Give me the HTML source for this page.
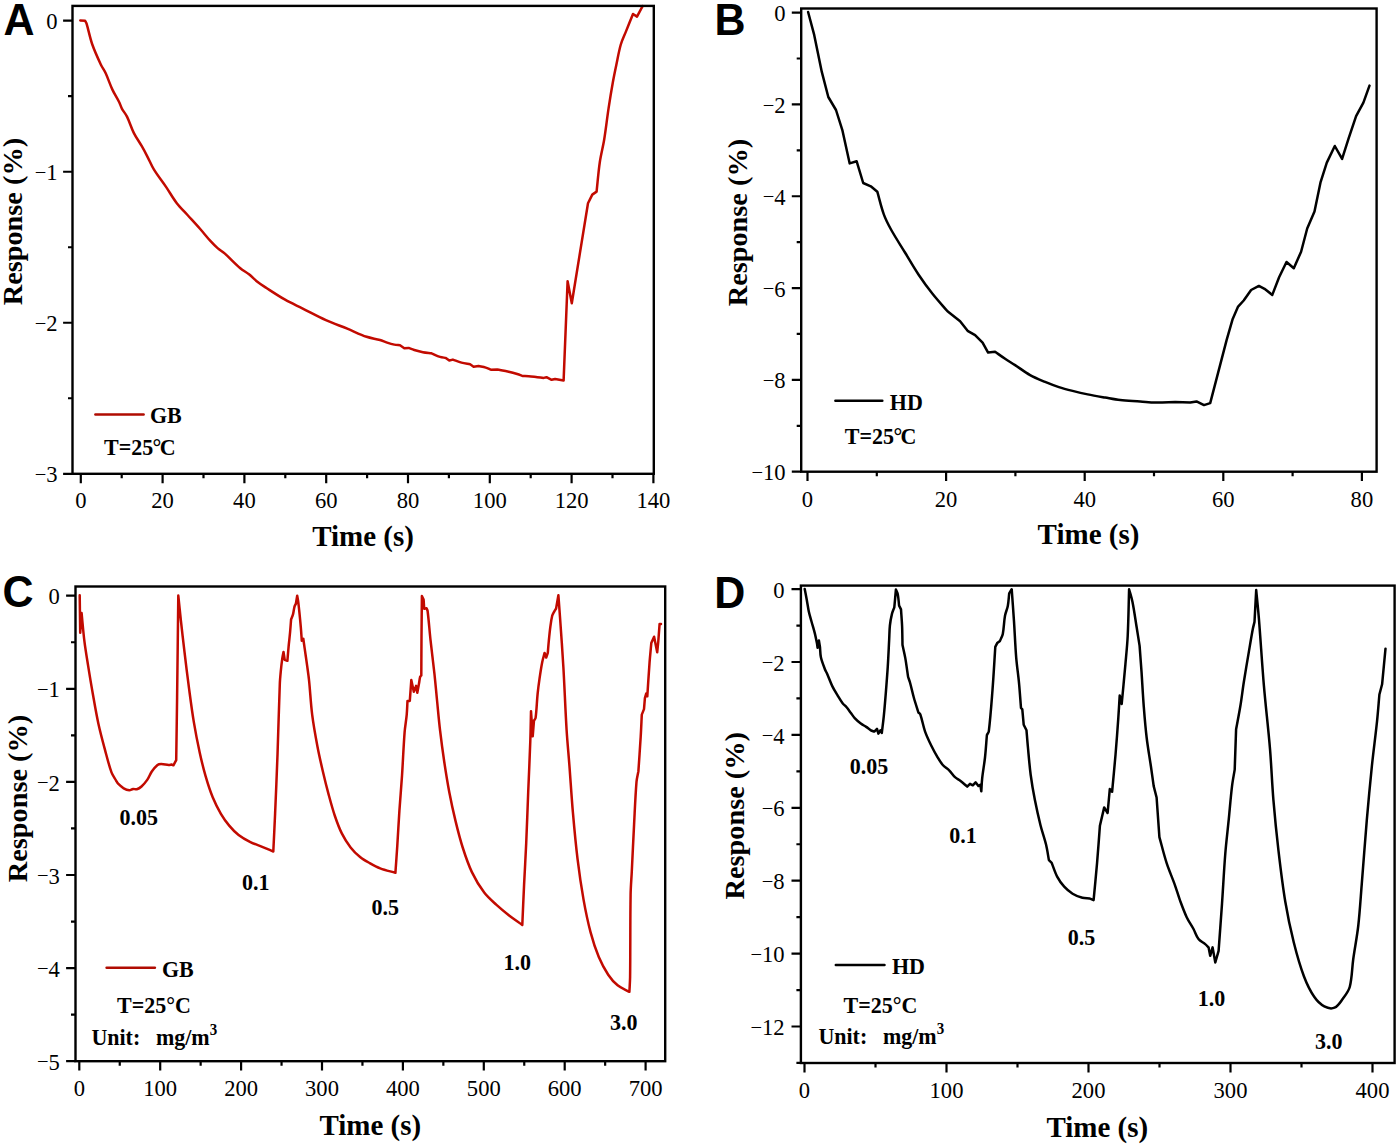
<!DOCTYPE html><html><head><meta charset="utf-8"><style>html,body{margin:0;padding:0;background:#fff;overflow:hidden}svg{display:block}.tl{font-family:"Liberation Serif",serif;font-size:22.6px;fill:#000}.ti{font-family:"Liberation Serif",serif;font-weight:bold;font-size:29px;fill:#000}.yt{font-family:"Liberation Serif",serif;font-weight:bold;font-size:28.3px;fill:#000}.lg{font-family:"Liberation Serif",serif;font-weight:bold;font-size:22px;fill:#000}.pl{font-family:"Liberation Sans",sans-serif;font-weight:bold;font-size:43px;fill:#000}</style></head><body>
<svg width="1399" height="1147" viewBox="0 0 1399 1147">
<rect width="1399" height="1147" fill="#fff"/>
<path fill="none" stroke="#c20a00" stroke-width="2.5" stroke-linejoin="round" stroke-linecap="round" d="M80.3 20.4L85.1 20.7C85.56 21.59 86.21 22.44 86.5 23.4C88.59 30.31 89.92 37.68 92.3 44.5C94.69 51.34 97.84 58.13 100.9 64.7C102.27 67.65 104.34 70.35 105.7 73.3C108.14 78.58 109.94 84.33 112.4 89.6C114.37 93.81 117.02 97.84 119.1 102C120.19 104.18 120.84 106.65 122 108.8C123.46 111.49 125.66 113.85 127 116.6C129.6 121.9 131.26 127.82 133.9 133.1C136.16 137.62 139.28 141.83 141.8 146.2C143.6 149.32 145.34 152.6 147 155.8C149.37 160.36 151.31 165.32 154 169.7C157.67 175.68 162.25 181.3 166.2 187.1C169.78 192.36 172.94 198.14 176.8 203.2C179.99 207.38 183.97 211.11 187.5 215C191.69 219.62 196.07 224.32 200.2 229C203.7 232.97 207.04 237.29 210.6 241.2C212.78 243.6 215.15 245.97 217.6 248.1C219.78 250 222.43 251.48 224.6 253.4C229.93 258.12 234.89 263.57 240.3 268.2C242.96 270.48 246.26 272.11 249 274.3C252.01 276.71 254.68 279.7 257.7 282.1C260.14 284.04 262.88 285.72 265.5 287.4C271.92 291.53 278.46 295.93 285.1 299.7C290.62 302.83 296.62 305.46 302.3 308.3C310.09 312.19 317.97 316.5 325.9 320.1C332.83 323.24 340.26 325.81 347.3 328.7C353.69 331.32 360.07 334.54 366.6 336.8C370.9 338.28 375.63 338.76 380 340C382.4 340.68 384.72 341.84 387.1 342.6C389.45 343.36 391.89 344.09 394.3 344.6C396.15 344.99 398.12 345.07 400 345.3L404.3 348.2L408.6 347.9C410.48 348.59 412.38 349.42 414.3 350C417.11 350.84 420.02 351.65 422.9 352.2C425.71 352.74 428.66 352.94 431.5 353.3C434.31 354.49 437.1 355.97 440 356.9C441.85 357.49 443.89 357.57 445.8 357.9L449.3 360.5L452.9 359.6C455.74 360.59 458.6 361.81 461.5 362.6C464.29 363.36 467.26 363.74 470.1 364.3L473.6 366.7L478.6 366C480.98 366.53 483.47 366.89 485.8 367.6C487.51 368.12 489.15 369.01 490.8 369.7L497.2 369.6C501 370.33 504.93 370.97 508.7 371.8C511.53 372.42 514.42 373.18 517.2 374C519.14 374.57 521.09 375.34 523 376C524.88 376.07 526.82 376.04 528.7 376.2C531.55 376.44 534.46 376.88 537.3 377.2C539.41 377.44 541.59 377.67 543.7 377.9L546.5 377.2L551.6 379.8L555.1 379L563.6 380.6L567.6 281.2L571.8 303.2L588 203.2L592.3 194.6L596.6 191.6C597.66 181.9 598.39 171.86 599.8 162.2C600.9 154.65 602.97 147.03 604.2 139.5C605.88 129.17 607.03 118.45 608.6 108.1C609.91 99.47 611.36 90.59 612.9 82C613.94 76.2 615.19 70.26 616.4 64.5C617.79 57.89 618.92 50.99 620.8 44.5C622.1 40.03 624.27 35.72 626 31.4C628.3 25.65 630.69 19.74 633 14L637 16.6L642.6 6.1"/>
<rect x="72.5" y="5.9" width="581.3" height="467.9" fill="none" stroke="#000" stroke-width="2.4"/>
<path d="M80.8 473.8V483.2M162.6 473.8V483.2M244.4 473.8V483.2M326.2 473.8V483.2M408 473.8V483.2M489.8 473.8V483.2M571.6 473.8V483.2M653.4 473.8V483.2M121.7 473.8V478.3M203.5 473.8V478.3M285.3 473.8V478.3M367.1 473.8V478.3M448.9 473.8V478.3M530.7 473.8V478.3M612.5 473.8V478.3M72.5 20.7H63.1M72.5 171.73H63.1M72.5 322.76H63.1M72.5 473.79H63.1M72.5 96.22H68M72.5 247.25H68M72.5 398.27H68" stroke="#000" stroke-width="2.2" fill="none"/>
<text class="tl" x="80.8" y="507.5" text-anchor="middle">0</text>
<text class="tl" x="162.6" y="507.5" text-anchor="middle">20</text>
<text class="tl" x="244.4" y="507.5" text-anchor="middle">40</text>
<text class="tl" x="326.2" y="507.5" text-anchor="middle">60</text>
<text class="tl" x="408" y="507.5" text-anchor="middle">80</text>
<text class="tl" x="489.8" y="507.5" text-anchor="middle">100</text>
<text class="tl" x="571.6" y="507.5" text-anchor="middle">120</text>
<text class="tl" x="653.4" y="507.5" text-anchor="middle">140</text>
<text class="tl" x="57.5" y="29.3" text-anchor="end">0</text>
<text class="tl" x="57.5" y="180.33" text-anchor="end"><tspan font-size="20.5" dy="-1.4">−</tspan><tspan dy="1.4" dx="-0.1">1</tspan></text>
<text class="tl" x="57.5" y="331.36" text-anchor="end"><tspan font-size="20.5" dy="-1.4">−</tspan><tspan dy="1.4" dx="-0.1">2</tspan></text>
<text class="tl" x="57.5" y="482.39" text-anchor="end"><tspan font-size="20.5" dy="-1.4">−</tspan><tspan dy="1.4" dx="-0.1">3</tspan></text>
<text class="ti" transform="translate(363.1 546.4) scale(1 1.025)" text-anchor="middle">Time (s)</text>
<text class="yt" transform="translate(22.4 221.6) rotate(-90)" x="0" y="0" text-anchor="middle">Response (%)</text>
<text class="pl" transform="translate(3.4 35) scale(1 1.035)">A</text>
<line x1="95.4" y1="414.4" x2="143.6" y2="414.4" stroke="#b00c02" stroke-width="2.5" stroke-linecap="round"/>
<text class="lg" transform="translate(150 423) scale(1 1.06)">GB</text>
<text class="lg" transform="translate(104 455) scale(1 1.06)">T=25<tspan dx="-0.6">°</tspan><tspan dx="-1.6">C</tspan></text>
<path fill="none" stroke="#000" stroke-width="2.5" stroke-linejoin="round" stroke-linecap="round" d="M808.1 12L814.2 34.9L821.8 71.9L828.3 97L836 110L842.5 130.7L849.7 163.4L856.6 161.2L863.2 183L870.8 186.3L877.3 191.7C879.48 199.26 881.2 207.21 883.9 214.6C885.84 219.9 888.56 225.07 891.3 230C895.53 237.6 900.47 245.08 905 252.5C909.54 259.93 913.97 267.75 918.8 275C923.05 281.39 927.74 287.78 932.5 293.8C937.22 299.77 942.55 305.53 947.5 311.3L960.1 321.3L967.6 330.8L975.1 335.1L982.6 342.6L988.1 352.6L995.1 351.8C998.4 354.11 1001.75 356.57 1005.1 358.8C1008.35 360.96 1011.83 362.97 1015.1 365.1C1020.08 368.35 1024.91 372.19 1030.1 375.1C1034.84 377.76 1040.08 379.81 1045.1 381.9C1049.59 383.77 1054.27 385.59 1058.9 387.1C1063.36 388.56 1068.05 389.75 1072.6 390.9C1077.56 392.16 1082.69 393.37 1087.7 394.4C1093.45 395.58 1099.42 396.59 1105.2 397.6C1110.14 398.47 1115.21 399.56 1120.2 400.1C1126.78 400.81 1133.6 400.93 1140.2 401.4C1145.15 401.75 1150.24 402.5 1155.2 402.6C1161.8 402.73 1168.6 402.27 1175.2 402.1L1190.2 402.6L1196.5 401.4L1204 405.1L1210.2 403.1L1226.6 340.1L1232.7 318.9L1238.1 306.6L1243.7 300.5L1251.1 290L1258.9 285.9L1264.5 288.8L1272.3 294.9L1279.1 277.3L1286.5 262L1293.8 268.3L1301.1 251.7L1307.2 228.5L1314.5 211.4L1320.6 182.1L1326.8 162.6L1334.8 146L1342.1 158.9L1348.7 138.1L1356.1 116.2L1363.4 102.7L1369.5 85.6"/>
<rect x="801.2" y="8.5" width="575.4" height="463.2" fill="none" stroke="#000" stroke-width="2.4"/>
<path d="M807.5 471.7V481.1M946.1 471.7V481.1M1084.7 471.7V481.1M1223.3 471.7V481.1M1361.9 471.7V481.1M876.8 471.7V476.2M1015.4 471.7V476.2M1154 471.7V476.2M1292.6 471.7V476.2M801.2 12.6H791.8M801.2 104.42H791.8M801.2 196.24H791.8M801.2 288.06H791.8M801.2 379.88H791.8M801.2 471.7H791.8M801.2 58.51H796.7M801.2 150.33H796.7M801.2 242.15H796.7M801.2 333.97H796.7M801.2 425.79H796.7" stroke="#000" stroke-width="2.2" fill="none"/>
<text class="tl" x="807.5" y="507" text-anchor="middle">0</text>
<text class="tl" x="946.1" y="507" text-anchor="middle">20</text>
<text class="tl" x="1084.7" y="507" text-anchor="middle">40</text>
<text class="tl" x="1223.3" y="507" text-anchor="middle">60</text>
<text class="tl" x="1361.9" y="507" text-anchor="middle">80</text>
<text class="tl" x="785.5" y="21.2" text-anchor="end">0</text>
<text class="tl" x="785.5" y="113.02" text-anchor="end"><tspan font-size="20.5" dy="-1.4">−</tspan><tspan dy="1.4" dx="-0.1">2</tspan></text>
<text class="tl" x="785.5" y="204.84" text-anchor="end"><tspan font-size="20.5" dy="-1.4">−</tspan><tspan dy="1.4" dx="-0.1">4</tspan></text>
<text class="tl" x="785.5" y="296.66" text-anchor="end"><tspan font-size="20.5" dy="-1.4">−</tspan><tspan dy="1.4" dx="-0.1">6</tspan></text>
<text class="tl" x="785.5" y="388.48" text-anchor="end"><tspan font-size="20.5" dy="-1.4">−</tspan><tspan dy="1.4" dx="-0.1">8</tspan></text>
<text class="tl" x="785.5" y="480.3" text-anchor="end"><tspan font-size="20.5" dy="-1.4">−</tspan><tspan dy="1.4" dx="-0.1">10</tspan></text>
<text class="ti" transform="translate(1088.5 544) scale(1 1.025)" text-anchor="middle">Time (s)</text>
<text class="yt" transform="translate(746.9 222.6) rotate(-90)" x="0" y="0" text-anchor="middle">Response (%)</text>
<text class="pl" transform="translate(714.4 35.3) scale(1 1.035)">B</text>
<line x1="835.4" y1="400.8" x2="882.3" y2="400.8" stroke="#000" stroke-width="2.5" stroke-linecap="round"/>
<text class="lg" transform="translate(889.8 409.5) scale(1 1.06)">HD</text>
<text class="lg" transform="translate(844.8 443.8) scale(1 1.06)">T=25<tspan dx="-0.6">°</tspan><tspan dx="-1.6">C</tspan></text>
<path fill="none" stroke="#c20a00" stroke-width="2.5" stroke-linejoin="round" stroke-linecap="round" d="M79.7 595.3L80.2 632.8L81.6 613.1C82.52 622.37 83.25 631.95 84.4 641.2C85.4 649.28 86.81 657.56 88.1 665.6C89.59 674.88 91.16 684.44 92.8 693.7C94.56 703.62 96.26 713.86 98.4 723.7C100.29 732.41 102.68 741.29 105 749.9C107.01 757.36 108.87 765.13 111.5 772.4C112.58 775.39 114.6 778.06 116.2 780.8C116.78 781.79 117.29 782.89 118.1 783.7C119.79 785.39 121.63 787.1 123.7 788.3C125.39 789.28 127.35 790.08 129.3 790.2C130.62 790.28 131.78 789.06 133.1 788.9C134.32 788.75 135.62 789.64 136.8 789.3C138.54 788.8 140.16 787.71 141.5 786.5C143.63 784.57 145.57 782.27 147.2 779.9C148.99 777.29 150.01 774.11 151.8 771.5C153.43 769.13 155.25 766.69 157.5 764.9C158.48 764.12 159.94 764 161.2 764C163.69 764 166.21 764.78 168.7 764.9C169.63 764.95 170.58 764.63 171.5 764.5L173.4 765.3L176.2 760.2C176.5 739.48 176.84 718.12 177.1 697.4C177.53 663.81 177.9 629.19 178.3 595.6C179.16 603.85 180 612.35 180.9 620.6C182.01 630.7 183.19 641.11 184.4 651.2C185.89 663.65 187.45 676.47 189.1 688.9C190.55 699.8 191.99 711.05 193.8 721.9C195.49 732.04 197.51 742.45 199.7 752.5C201.41 760.34 203.36 768.39 205.6 776.1C207.66 783.19 209.93 790.46 212.7 797.3C214.99 802.93 217.84 808.55 220.9 813.8C223.3 817.91 226.15 821.95 229.2 825.6C232.01 828.97 235.14 832.31 238.6 835C242.19 837.79 246.34 840.07 250.4 842.1C254.15 843.97 258.32 845.21 262.2 846.8C265.88 848.31 269.64 849.95 273.3 851.5C273.89 839.06 274.56 826.24 275.1 813.8C275.94 794.37 276.79 774.34 277.5 754.9C278.35 731.57 278.88 707.53 279.8 684.2C279.97 679.87 280.38 675.42 280.8 671.1C281.21 666.9 281.71 662.58 282.3 658.4C282.6 656.27 283.1 654.11 283.5 652L284.7 659.8L287.4 660.8C287.8 656.11 288.16 651.28 288.6 646.6C289.05 641.78 289.66 636.82 290.1 632C290.48 627.81 290.77 623.49 291.1 619.3C291.73 617.68 292.55 616.08 293 614.4C293.68 611.87 293.82 609.13 294.5 606.6C294.78 605.54 295.44 604.59 295.9 603.6L297.2 595.8C297.53 597.75 297.94 599.74 298.2 601.7C298.67 605.22 299.04 608.87 299.4 612.4C299.9 617.25 300.39 622.24 300.8 627.1C301.18 631.62 301.47 636.28 301.8 640.8L303.3 638.8C303.76 642.03 304.24 645.37 304.7 648.6C305.53 654.41 306.41 660.39 307.2 666.2C307.86 671.01 308.6 675.97 309.1 680.8C310.25 692.04 310.78 703.69 312.2 714.9C313.52 725.29 315.46 735.91 317.4 746.2C318.93 754.33 320.82 762.64 322.7 770.7C324.58 778.78 326.64 787.09 328.8 795.1C330.67 802.04 332.59 809.2 334.9 816C336.89 821.85 339.04 827.88 341.8 833.4C344.24 838.28 347.26 843.09 350.6 847.4C353.33 850.92 356.66 854.17 360.1 857C363 859.38 366.43 861.26 369.7 863.1C373.07 864.99 376.58 866.93 380.2 868.3C385.09 870.15 390.38 871.31 395.4 872.8C396.03 863.82 396.72 854.58 397.3 845.6C398.04 834.12 398.63 822.28 399.4 810.8C400.18 799.28 401.24 787.42 402 775.9C402.95 761.52 403.49 746.67 404.6 732.3C405.04 726.53 406.17 720.66 406.7 714.9C407.13 710.29 407.24 705.52 407.5 700.9L409.8 700.9L411.3 680.1L413.8 691.7L416.1 685.9L417.3 692.8L419 683.6C419.4 681.32 419.57 678.92 420.2 676.7C420.35 676.18 420.94 675.9 421.3 675.5C421.37 662.6 421.4 649.3 421.5 636.4C421.6 623.1 421.77 609.4 421.9 596.1L423.6 599.5L424.2 608.7L426.5 608.2C426.86 609.12 427.48 610.02 427.6 611C428.8 620.48 429.47 630.3 430.5 639.8C431.74 651.23 433.27 662.97 434.5 674.4C435.41 682.84 436.16 691.55 437 700C438.01 710.13 438.92 720.59 440.1 730.7C441.29 740.88 442.68 751.36 444.2 761.5C445.72 771.66 447.38 782.11 449.3 792.2C451.11 801.72 453.22 811.48 455.5 820.9C457.64 829.74 459.93 838.84 462.7 847.5C465.34 855.75 468.17 864.28 471.9 872.1C475.29 879.22 479.47 886.29 484.2 892.6C487.64 897.19 492.27 901.02 496.5 904.9C500.4 908.48 504.62 911.95 508.8 915.2C513.14 918.58 517.85 921.77 522.3 925C522.89 911.6 523.46 897.8 524.1 884.4C524.75 870.87 525.6 856.93 526.2 843.4C526.95 826.51 527.52 809.1 528.2 792.2C528.88 775.3 529.72 757.9 530.3 741C530.64 731.17 530.77 721.03 531 711.2L532.7 736.3L534 720.5C534.53 719.61 535.46 718.83 535.6 717.8C536.66 709.99 536.81 701.84 537.6 694C538.13 688.74 538.84 683.33 539.6 678.1C540.36 672.84 541.17 667.42 542.2 662.2C542.82 659.09 543.81 655.97 544.6 652.9L546.2 657.5L547.8 652.9C548.13 648.97 548.42 644.92 548.8 641C549.27 636.18 549.75 631.2 550.4 626.4C550.87 622.88 551.33 619.24 552.2 615.8C552.56 614.38 553.41 613.09 554.1 611.8C554.7 610.68 555.44 609.59 556.1 608.5L558.4 595.3C558.96 602.96 559.57 610.84 560.1 618.5C561.22 634.67 562.46 651.32 563.4 667.5C564.6 688.12 565.34 709.39 566.6 730C567.32 741.66 568.51 753.65 569.4 765.3C570.59 780.84 571.55 796.87 572.9 812.4C574.25 827.93 575.71 843.93 577.6 859.4C579.21 872.64 581.16 886.26 583.5 899.4C585.45 910.37 587.74 921.63 590.6 932.4C592.8 940.7 595.5 949.17 598.8 957.1C601.33 963.18 604.55 969.22 608.2 974.7C610.79 978.59 613.96 982.36 617.6 985.3C621.06 988.09 625.51 989.65 629.4 991.8C629.63 986.95 630.04 981.96 630.1 977.1C630.44 949.91 630.16 921.89 630.6 894.7C630.72 886.94 631.42 878.96 631.8 871.2C632.57 855.66 633.28 839.64 634.1 824.1C634.83 810.14 635.37 795.74 636.5 781.8C636.79 778.26 637.77 774.7 638.4 771.2C639.16 759.78 640.01 748.02 640.7 736.6C641.14 729.34 641.44 721.86 641.8 714.6L644 709.1L644.9 698.1L646.2 693.5L647.3 696.3C648.03 685.41 648.68 674.18 649.5 663.3C650 656.63 650.71 649.77 651.3 643.1L654.1 636.7L655 641.3L657.2 652.3L658.3 641.3L659.6 623.9L661 623.9"/>
<rect x="75.5" y="586.5" width="589.7" height="474.7" fill="none" stroke="#000" stroke-width="2.4"/>
<path d="M79.3 1061.2V1070.6M160.2 1061.2V1070.6M241.1 1061.2V1070.6M322 1061.2V1070.6M402.9 1061.2V1070.6M483.8 1061.2V1070.6M564.7 1061.2V1070.6M645.6 1061.2V1070.6M119.75 1061.2V1065.7M200.65 1061.2V1065.7M281.55 1061.2V1065.7M362.45 1061.2V1065.7M443.35 1061.2V1065.7M524.25 1061.2V1065.7M605.15 1061.2V1065.7M75.5 595.7H66.1M75.5 688.8H66.1M75.5 781.9H66.1M75.5 875H66.1M75.5 968.1H66.1M75.5 1061.2H66.1M75.5 642.25H71M75.5 735.35H71M75.5 828.45H71M75.5 921.55H71M75.5 1014.65H71" stroke="#000" stroke-width="2.2" fill="none"/>
<text class="tl" x="79.3" y="1095.5" text-anchor="middle">0</text>
<text class="tl" x="160.2" y="1095.5" text-anchor="middle">100</text>
<text class="tl" x="241.1" y="1095.5" text-anchor="middle">200</text>
<text class="tl" x="322" y="1095.5" text-anchor="middle">300</text>
<text class="tl" x="402.9" y="1095.5" text-anchor="middle">400</text>
<text class="tl" x="483.8" y="1095.5" text-anchor="middle">500</text>
<text class="tl" x="564.7" y="1095.5" text-anchor="middle">600</text>
<text class="tl" x="645.6" y="1095.5" text-anchor="middle">700</text>
<text class="tl" x="59.7" y="604.3" text-anchor="end">0</text>
<text class="tl" x="59.7" y="697.4" text-anchor="end"><tspan font-size="20.5" dy="-1.4">−</tspan><tspan dy="1.4" dx="-0.1">1</tspan></text>
<text class="tl" x="59.7" y="790.5" text-anchor="end"><tspan font-size="20.5" dy="-1.4">−</tspan><tspan dy="1.4" dx="-0.1">2</tspan></text>
<text class="tl" x="59.7" y="883.6" text-anchor="end"><tspan font-size="20.5" dy="-1.4">−</tspan><tspan dy="1.4" dx="-0.1">3</tspan></text>
<text class="tl" x="59.7" y="976.7" text-anchor="end"><tspan font-size="20.5" dy="-1.4">−</tspan><tspan dy="1.4" dx="-0.1">4</tspan></text>
<text class="tl" x="59.7" y="1069.8" text-anchor="end"><tspan font-size="20.5" dy="-1.4">−</tspan><tspan dy="1.4" dx="-0.1">5</tspan></text>
<text class="ti" transform="translate(370.3 1135) scale(1 1.025)" text-anchor="middle">Time (s)</text>
<text class="yt" transform="translate(27 798.5) rotate(-90)" x="0" y="0" text-anchor="middle">Response (%)</text>
<text class="pl" transform="translate(2.4 607) scale(1 1.035)">C</text>
<line x1="106.6" y1="967.7" x2="154.9" y2="967.7" stroke="#b00c02" stroke-width="2.5" stroke-linecap="round"/>
<text class="lg" transform="translate(162 976.7) scale(1 1.06)">GB</text>
<text class="lg" transform="translate(117 1013.3) scale(1 1.06)">T=25°C</text>
<text class="lg" transform="translate(91.4 1044.5) scale(1 1.06)">Unit:</text>
<text class="lg" transform="translate(155.9 1044.5) scale(1 1.06)">mg/m<tspan dy="-9" font-size="15">3</tspan></text>
<path fill="none" stroke="#000" stroke-width="2.5" stroke-linejoin="round" stroke-linecap="round" d="M804.7 589.1C805.39 592.66 806.14 596.33 806.8 599.9C807.5 603.69 807.98 607.64 808.8 611.4C809.53 614.77 810.59 618.17 811.5 621.5C812.6 625.5 813.89 629.58 814.9 633.6C815.68 636.71 816.3 639.95 816.9 643.1C817.19 644.64 817.37 646.25 817.6 647.8L818.9 640.4L820 647.2C820.3 650.53 820.17 654.03 820.9 657.3C821.83 661.44 823.5 665.53 825 669.5C825.52 670.88 826.41 672.15 827 673.5C828.85 677.73 830.39 682.25 832.4 686.4C833.96 689.62 835.94 692.74 837.8 695.8C839.31 698.29 840.83 700.89 842.6 703.2C843.75 704.7 845.37 705.86 846.6 707.3C848.05 709 849.36 710.91 850.7 712.7C852.03 714.47 853.19 716.48 854.7 718.1C856.54 720.06 858.66 721.87 860.8 723.5C862.47 724.78 864.45 725.72 866.2 726.9C867.79 727.97 869.24 729.34 870.9 730.3C871.94 730.9 873.18 731.17 874.3 731.6L877 728.9L878.4 733.6L880.4 730.3L881.8 733C882.46 727.42 883.24 721.69 883.8 716.1C884.56 708.52 885.19 700.69 885.8 693.1C886.51 684.19 887.24 675.02 887.8 666.1C888.36 657.2 888.74 648.01 889.2 639.1C889.43 634.61 889.42 629.97 889.9 625.5C890.31 621.7 891 617.81 891.9 614.1C892.46 611.79 893.51 609.54 894.3 607.3C894.53 604.86 894.78 602.34 895 599.9C895.31 596.47 895.6 592.93 895.9 589.5C896.53 591.12 897.46 592.7 897.8 594.4C898.53 598.05 898.67 601.9 899.1 605.6L901 609.4C901.36 614.98 901.86 620.72 902.1 626.3C902.36 632.47 902.37 638.83 902.5 645C903.42 649.32 904.54 653.75 905.3 658.1C906.38 664.28 907.18 670.7 908.1 676.9C908.73 678.75 909.48 680.62 910 682.5C911.36 687.42 912.42 692.58 913.8 697.5C915.2 702.49 916.88 707.55 918.4 712.5C919.03 713.13 920.01 713.56 920.3 714.4C922.22 719.86 923.07 725.84 925 731.3C926.81 736.4 929.25 741.43 931.6 746.3C933.28 749.78 935.21 753.28 937.2 756.6C938.91 759.46 940.61 762.49 942.8 765C944.68 767.15 947.38 768.58 949.4 770.6C951.42 772.62 952.91 775.26 955 777.2C956.64 778.72 958.83 779.64 960.6 781C962.86 782.74 965.02 784.75 967.2 786.6L970 783.8L972.8 785.3L975.6 782.3L978.4 786L980.3 784.7L981.3 791.3C981.6 786.94 981.72 782.44 982.2 778.1C982.95 771.28 984.26 764.32 985 757.5C985.81 750.09 986.27 742.42 986.9 735C987.53 733.78 988.63 732.66 988.8 731.3C990.49 717.72 991.45 703.64 992.5 690C993.59 675.79 994.38 661.12 995.3 646.9L997.2 643.1L1000 640.9C1000.92 638.59 1002.32 636.34 1002.8 633.9C1003.98 627.97 1003.93 621.65 1005 615.7C1005.59 612.42 1007.18 609.27 1007.8 606C1008.57 601.89 1008.74 597.56 1009.2 593.4L1011.7 589.2C1012.46 599.79 1013.3 610.7 1014 621.3C1014.79 633.28 1015.23 645.64 1016.2 657.6C1016.88 665.94 1018.21 674.47 1019 682.8C1019.79 691.07 1020.34 699.62 1021 707.9L1022.3 709.3L1023.7 724.7L1026.5 730.3C1026.96 735.81 1027.38 741.49 1027.9 747C1028.77 756.25 1029.49 765.79 1030.7 775C1031.8 783.33 1033.29 791.86 1034.9 800.1C1036.53 808.43 1038.44 816.97 1040.5 825.2C1042.13 831.73 1044.53 838.26 1046.1 844.8C1047.3 849.79 1047.98 855.05 1048.9 860.1L1051.7 862.9C1053.55 867.52 1054.99 872.49 1057.3 876.9C1059.14 880.4 1061.54 883.78 1064.2 886.7C1066.63 889.37 1069.52 891.82 1072.6 893.7C1075.59 895.53 1079.02 896.86 1082.4 897.8C1084.63 898.42 1087.09 898.2 1089.4 898.4L1093.6 900.1C1094.75 887.73 1096.05 874.98 1097.1 862.6C1098.13 850.46 1098.98 837.94 1099.9 825.8L1104.2 807.4L1107.6 813L1109.8 789L1112.1 791.8C1113.22 779.66 1114.48 767.15 1115.5 755C1116.52 742.83 1117.44 730.28 1118.3 718.1C1118.83 710.65 1119.24 702.96 1119.7 695.5L1121.7 704C1122.92 690.9 1124.24 677.41 1125.4 664.3C1126.22 654.97 1127.24 645.36 1127.7 636C1128.46 620.57 1128.64 604.64 1129.1 589.2C1130.22 593.42 1131.65 597.71 1132.5 602C1134.16 610.37 1135.34 619.08 1136.7 627.5C1137.68 633.57 1138.64 639.83 1139.6 645.9L1141.6 672.8C1142.33 684.02 1142.92 695.59 1143.8 706.8C1144.61 717.11 1145.47 727.73 1146.7 738C1147.82 747.37 1149.54 756.96 1150.9 766.3C1151.85 772.83 1152.78 779.57 1153.7 786.1L1156.6 797.5L1159.4 837.1C1161.74 845.51 1163.81 854.29 1166.5 862.6C1168.96 870.21 1172.31 877.77 1175 885.3C1176.77 890.24 1178.19 895.47 1180 900.4C1182.06 906 1184.15 911.8 1186.7 917.2C1188.62 921.26 1191.36 925.05 1193.5 929C1195.26 932.24 1196.24 936.08 1198.5 939C1200.2 941.2 1203.06 942.32 1205.2 944.1C1206.4 945.1 1207.48 946.31 1208.6 947.4L1210.2 955.8L1212.6 947.4L1215.3 962.5L1218.6 950.8C1219.72 935.29 1220.93 919.31 1222 903.8C1223.14 887.2 1223.98 870.08 1225.3 853.5C1226.19 842.39 1227.59 830.99 1228.7 819.9C1229.81 808.81 1230.68 797.36 1232 786.3C1232.66 780.76 1233.81 775.11 1234.7 769.6L1236.1 729.3C1237.52 721.54 1239.13 713.58 1240.4 705.8C1241.67 698.07 1242.59 690.04 1243.8 682.3C1245.36 672.32 1247.11 662.06 1248.8 652.1C1250.12 644.34 1251.44 636.34 1252.9 628.6C1253.32 626.37 1253.97 624.11 1254.5 621.9L1256.2 590C1257.09 599.44 1258.14 609.15 1258.9 618.6C1260.68 640.73 1262.02 663.58 1263.9 685.7C1265.68 706.58 1268.26 728.02 1270 748.9C1271.4 765.68 1272 783.02 1273.4 799.8C1274.81 816.66 1276.54 834 1278.5 850.8C1280.47 867.63 1282.51 884.98 1285.3 901.7C1287.56 915.27 1290.46 929.16 1293.8 942.5C1296.64 953.86 1299.88 965.53 1304 976.5C1306.64 983.52 1309.99 990.6 1314.2 996.8C1316.78 1000.6 1320.25 1004.22 1324.3 1006.4C1327.29 1008.01 1331.37 1009.02 1334.5 1007.7C1338.31 1006.09 1340.57 1001.84 1343 998.5C1345.65 994.87 1348.66 991.05 1349.8 986.7C1352.09 977.95 1351.96 968.46 1353.2 959.5C1354.76 948.26 1357.02 936.77 1358.3 925.5C1359.82 912.11 1360.62 898.23 1361.7 884.8C1363.42 863.49 1364.97 841.51 1366.8 820.2C1368.34 802.27 1370.05 783.8 1371.9 765.9C1373.41 751.3 1375.47 736.3 1377 721.7C1377.94 712.74 1378.61 703.48 1379.4 694.5L1382.1 684.3L1385.5 648.7"/>
<rect x="800.9" y="585.6" width="593.7" height="477.4" fill="none" stroke="#000" stroke-width="2.4"/>
<path d="M804.5 1063V1072.4M946.5 1063V1072.4M1088.5 1063V1072.4M1230.5 1063V1072.4M1372.5 1063V1072.4M875.5 1063V1067.5M1017.5 1063V1067.5M1159.5 1063V1067.5M1301.5 1063V1067.5M800.9 589.1H791.5M800.9 662H791.5M800.9 734.9H791.5M800.9 807.8H791.5M800.9 880.7H791.5M800.9 953.6H791.5M800.9 1026.5H791.5M800.9 625.55H796.4M800.9 698.45H796.4M800.9 771.35H796.4M800.9 844.25H796.4M800.9 917.15H796.4M800.9 990.05H796.4M800.9 1062.95H796.4" stroke="#000" stroke-width="2.2" fill="none"/>
<text class="tl" x="804.5" y="1097.5" text-anchor="middle">0</text>
<text class="tl" x="946.5" y="1097.5" text-anchor="middle">100</text>
<text class="tl" x="1088.5" y="1097.5" text-anchor="middle">200</text>
<text class="tl" x="1230.5" y="1097.5" text-anchor="middle">300</text>
<text class="tl" x="1372.5" y="1097.5" text-anchor="middle">400</text>
<text class="tl" x="784.6" y="597.7" text-anchor="end">0</text>
<text class="tl" x="784.6" y="670.6" text-anchor="end"><tspan font-size="20.5" dy="-1.4">−</tspan><tspan dy="1.4" dx="-0.1">2</tspan></text>
<text class="tl" x="784.6" y="743.5" text-anchor="end"><tspan font-size="20.5" dy="-1.4">−</tspan><tspan dy="1.4" dx="-0.1">4</tspan></text>
<text class="tl" x="784.6" y="816.4" text-anchor="end"><tspan font-size="20.5" dy="-1.4">−</tspan><tspan dy="1.4" dx="-0.1">6</tspan></text>
<text class="tl" x="784.6" y="889.3" text-anchor="end"><tspan font-size="20.5" dy="-1.4">−</tspan><tspan dy="1.4" dx="-0.1">8</tspan></text>
<text class="tl" x="784.6" y="962.2" text-anchor="end"><tspan font-size="20.5" dy="-1.4">−</tspan><tspan dy="1.4" dx="-0.1">10</tspan></text>
<text class="tl" x="784.6" y="1035.1" text-anchor="end"><tspan font-size="20.5" dy="-1.4">−</tspan><tspan dy="1.4" dx="-0.1">12</tspan></text>
<text class="ti" transform="translate(1097.3 1137.4) scale(1 1.025)" text-anchor="middle">Time (s)</text>
<text class="yt" transform="translate(743.8 815.7) rotate(-90)" x="0" y="0" text-anchor="middle">Response (%)</text>
<text class="pl" transform="translate(714.3 607.5) scale(1 1.035)">D</text>
<line x1="835.8" y1="965" x2="884.5" y2="965" stroke="#000" stroke-width="2.5" stroke-linecap="round"/>
<text class="lg" transform="translate(892 974) scale(1 1.06)">HD</text>
<text class="lg" transform="translate(843.5 1012.7) scale(1 1.06)">T=25°C</text>
<text class="lg" transform="translate(818.4 1043.6) scale(1 1.06)">Unit:</text>
<text class="lg" transform="translate(882.9 1043.6) scale(1 1.06)">mg/m<tspan dy="-9" font-size="15">3</tspan></text>
<text class="lg" transform="translate(119.6 825.3) scale(1 1.06)">0.05</text>
<text class="lg" transform="translate(241.9 890) scale(1 1.06)">0.1</text>
<text class="lg" transform="translate(371.6 915.1) scale(1 1.06)">0.5</text>
<text class="lg" transform="translate(503.4 970) scale(1 1.06)">1.0</text>
<text class="lg" transform="translate(610 1030.2) scale(1 1.06)">3.0</text>
<text class="lg" transform="translate(849.8 773.5) scale(1 1.06)">0.05</text>
<text class="lg" transform="translate(949.3 843.2) scale(1 1.06)">0.1</text>
<text class="lg" transform="translate(1067.7 944.5) scale(1 1.06)">0.5</text>
<text class="lg" transform="translate(1197.8 1005.6) scale(1 1.06)">1.0</text>
<text class="lg" transform="translate(1315 1048.8) scale(1 1.06)">3.0</text>
</svg></body></html>
